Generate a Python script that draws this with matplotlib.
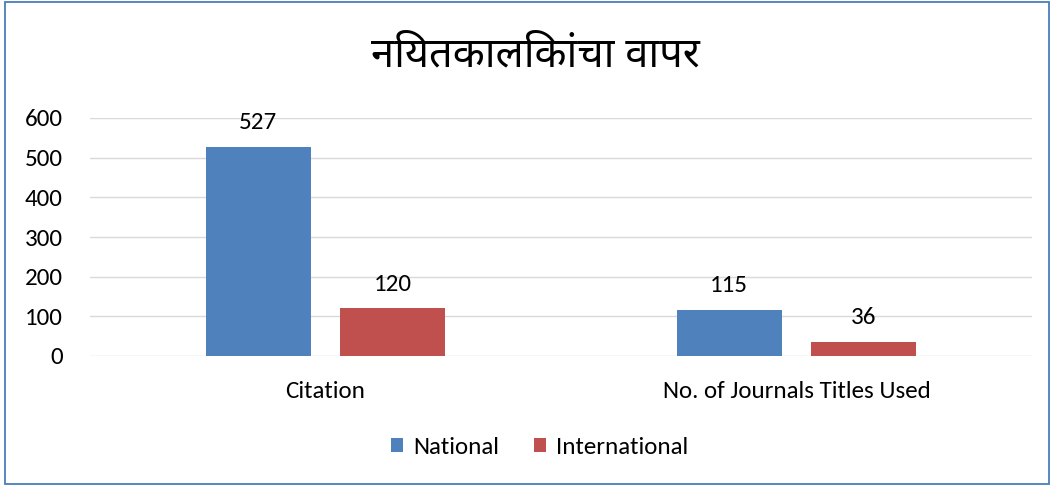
import glob
import matplotlib
matplotlib.use("Agg")
import matplotlib.pyplot as plt
from matplotlib import font_manager as fm
from matplotlib.patches import Rectangle
import numpy as np

# ---- data ----
title = "नियतकालिकांचा वापर"
categories = ["Citation", "No. of Journals Titles Used"]
series_names = ["National", "International"]
national = [527, 115]
international = [120, 36]
yticks = [0, 100, 200, 300, 400, 500, 600]

# ---- fonts ----
for pat in ["/usr/share/fonts/**/Carlito-Regular.ttf",
            "/usr/share/fonts/**/NotoSansDevanagari-Regular.ttf",
            "/usr/share/fonts/**/NotoSansDevanagariUI-Regular.ttf",
            "/usr/share/fonts/**/Hind-Regular.ttf"]:
    for f in glob.glob(pat, recursive=True)[:1]:
        try:
            fm.fontManager.addfont(f)
        except Exception:
            pass
names = {f.name for f in fm.fontManager.ttflist}
latin = [n for n in ["Carlito", "Open Sans", "DejaVu Sans"] if n in names]
deva = [n for n in ["Noto Sans Devanagari", "Noto Sans Devanagari UI", "Hind", "DejaVu Sans"] if n in names]
plt.rcParams["font.family"] = latin

FS = 18
W, H = 1055, 488
fig = plt.figure(figsize=(W / 100, H / 100), dpi=100)
fig.patch.set_facecolor("white")
fig.add_artist(Rectangle((5 / W, 4 / H), 1044 / W, 482 / H, transform=fig.transFigure,
                         fill=False, edgecolor="#4a7ebb", linewidth=1.3))

ax = fig.add_axes([90 / W, 1 - 356 / H, 942 / W, 238 / H])
x = np.arange(len(categories))
bw = 0.223
off = 0.143
b1 = ax.bar(x - off, national, bw, color="#4f81bd", label=series_names[0], zorder=3)
b2 = ax.bar(x + off, international, bw, color="#c0504d", label=series_names[1], zorder=3)
for bars, vals in ((b1, national), (b2, international)):
    for r, v in zip(bars, vals):
        ax.annotate(str(v), (r.get_x() + r.get_width() / 2, v), xytext=(0, 10),
                    textcoords="offset points", ha="center", va="bottom",
                    fontsize=FS, color="#000000")

ax.set_xlim(-0.5, 1.5)
ax.set_ylim(0, 600)
ax.set_yticks(yticks)
ax.set_yticklabels([str(t) for t in yticks])
ax.set_xticks(x)
ax.set_xticklabels(categories)
ax.grid(axis="y", color="#d9d9d9", linewidth=1.0, zorder=0)
for s in ax.spines.values():
    s.set_visible(False)
ax.tick_params(axis="both", length=0, labelsize=FS, colors="#000000")
ax.tick_params(axis="y", pad=19.5)
ax.tick_params(axis="x", pad=18)

fig.text(535 / W, 1 - 55 / H, title, ha="center", va="center", fontsize=30,
         family=deva)

leg = fig.legend(handles=[b1, b2], labels=series_names, loc="center",
                 bbox_to_anchor=(540 / W, 1 - 447 / H), ncol=2, frameon=False,
                 fontsize=FS, handlelength=0.48, handleheight=0.48,
                 handletextpad=0.4, columnspacing=1.4)

fig.savefig("out.png", dpi=100)
